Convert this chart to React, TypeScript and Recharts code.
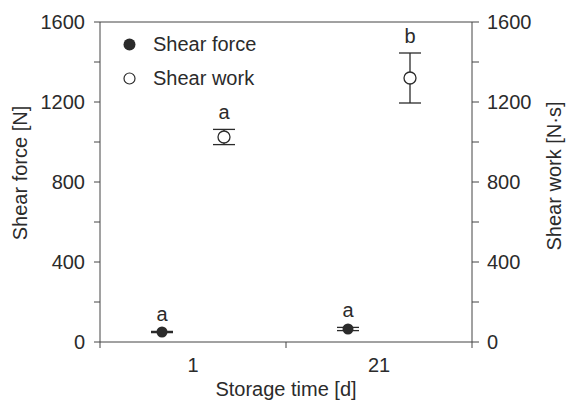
// Shear force / shear work vs storage time, dual-axis scatter with error bars

import { ScatterChart, Scatter, XAxis, YAxis, ErrorBar, Legend, ReferenceLine, Label } from 'recharts';

const categories = ['1', '21'];
const forceMean = [50, 65];
const forceErr = [3, 8];
const forceLetters = ['a', 'a'];
const workMean = [1025, 1320];
const workErr = [38, 125];
const workLetters = ['a', 'b'];
const yTicks = [0, 200, 400, 600, 800, 1000, 1200, 1400, 1600];
const xTicks = [0, 0.5, 1, 1.5, 2];

const DODGE = 1 / 6;
const INK = '#2b2b2b';
const LINE = '#444';
const FONT = '"Liberation Sans", Arial, sans-serif';
const FS = 20;

// category i sits at i + 0.5, series shifted left/right of it
const toPoints = (means: number[], errs: number[], letters: string[], shift: number) =>
  means.map((m, i) => ({ x: i + 0.5 + shift, y: m, err: errs[i], letter: letters[i] }));

const forceData = toPoints(forceMean, forceErr, forceLetters, -DODGE);
const workData = toPoints(workMean, workErr, workLetters, DODGE);
const forceTops = forceData.map(d => ({ x: d.x, y: d.y + d.err, letter: d.letter }));
const workTops = workData.map(d => ({ x: d.x, y: d.y + d.err, letter: d.letter }));

const legendItems = [
  { name: 'Shear force', filled: true },
  { name: 'Shear work', filled: false },
];

function XTick({ x, y, payload }: any) {
  const v = payload.value;
  if (Number.isInteger(v)) {
    return <line x1={x} x2={x} y1={y - 6} y2={y} stroke={LINE} />;
  }
  return (
    <text x={x} y={y + 24} textAnchor="middle" fill={INK} fontSize={FS} fontFamily={FONT}>
      {categories[Math.floor(v)]}
    </text>
  );
}

const letterShape = ({ cx, cy, payload }: any) => (
  <text x={cx} y={cy - 10} textAnchor="middle" fill={INK} fontSize={FS} fontFamily={FONT}>
    {payload.letter}
  </text>
);

const filledDot = ({ cx, cy }: any) => <circle cx={cx} cy={cy} r={5.5} fill={INK} />;
const openDot = ({ cx, cy }: any) => (
  <circle cx={cx} cy={cy} r={6} fill="#fff" stroke={INK} strokeWidth={1.3} />
);

function LegendBox() {
  return (
    <div style={{ fontFamily: FONT, fontSize: FS, color: INK }}>
      {legendItems.map(item => (
        <div key={item.name} style={{ display: 'flex', alignItems: 'center', height: 34 }}>
          <svg width={13} height={13}>
            {item.filled ? (
              <circle cx={6.5} cy={6.5} r={6} fill={INK} />
            ) : (
              <circle cx={6.5} cy={6.5} r={5.5} fill="#fff" stroke={INK} strokeWidth={1.2} />
            )}
          </svg>
          <span style={{ marginLeft: 17, lineHeight: '34px' }}>{item.name}</span>
        </div>
      ))}
    </div>
  );
}

const tickStyle = { fill: INK, fontSize: FS, fontFamily: FONT };
const fmt = (v: number) => (v % 400 === 0 ? String(v) : '');

export default function App() {
  return (
    <div style={{ position: 'absolute', left: 0, top: 0, background: '#fff' }}>
      <ScatterChart width={566} height={401} margin={{ top: 22, right: 0, bottom: 0, left: 0 }}>
        <XAxis
          type="number"
          dataKey="x"
          domain={[0, 2]}
          ticks={xTicks}
          height={59}
          tickSize={6}
          tickMargin={0}
          tickLine={false}
          tick={<XTick />}
          stroke={LINE}
          interval={0}
        >
          <Label
            content={() => (
              <text x={286} y={396} textAnchor="middle" fill={INK} fontSize={FS} fontFamily={FONT}>
                Storage time [d]
              </text>
            )}
          />
        </XAxis>
        <YAxis
          yAxisId="left"
          type="number"
          dataKey="y"
          domain={[0, 1600]}
          ticks={yTicks}
          tickFormatter={fmt}
          width={100}
          tickSize={6}
          tickMargin={9}
          tick={tickStyle}
          stroke={LINE}
          interval={0}
        >
          <Label
            content={() => (
              <text x={20} y={173} transform="rotate(-90 20 173)" textAnchor="middle" dominantBaseline="central" fill={INK} fontSize={FS} fontFamily={FONT}>
                Shear force [N]
              </text>
            )}
          />
        </YAxis>
        <YAxis
          yAxisId="right"
          orientation="right"
          type="number"
          dataKey="y"
          domain={[0, 1600]}
          ticks={yTicks}
          tickFormatter={fmt}
          width={94}
          tickSize={7}
          tickMargin={8}
          tick={tickStyle}
          stroke={LINE}
          interval={0}
        >
          <Label
            content={() => (
              <text x={554} y={176} transform="rotate(-90 554 176)" textAnchor="middle" dominantBaseline="central" fill={INK} fontSize={FS} fontFamily={FONT}>
                Shear work [N·s]
              </text>
            )}
          />
        </YAxis>
        <ReferenceLine yAxisId="left" y={1600} stroke={LINE} />
        <Legend
          layout="horizontal"
          align="center"
          verticalAlign="middle"
          wrapperStyle={{ left: 123, top: 27, width: 'auto' }}
          content={() => <LegendBox />}
        />
        <Scatter name="Shear force" yAxisId="left" data={forceData} shape={filledDot} isAnimationActive={false}>
          <ErrorBar dataKey="err" direction="y" width={11} stroke={INK} strokeWidth={1.3} />
        </Scatter>
        <Scatter name="Shear work" yAxisId="right" data={workData} shape={openDot} isAnimationActive={false}>
          <ErrorBar dataKey="err" direction="y" width={11} stroke={INK} strokeWidth={1.3} />
        </Scatter>
        <Scatter yAxisId="left" data={forceTops} shape={letterShape} isAnimationActive={false} legendType="none" />
        <Scatter yAxisId="right" data={workTops} shape={letterShape} isAnimationActive={false} legendType="none" />
      </ScatterChart>
    </div>
  );
}
